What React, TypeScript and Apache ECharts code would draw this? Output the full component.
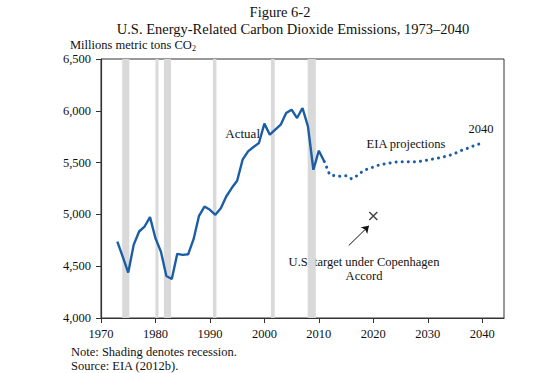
import React, { useEffect, useRef } from "react";
import * as echarts from "echarts";

const actualYears = [1973, 1974, 1975, 1976, 1977, 1978, 1979, 1980, 1981, 1982, 1983, 1984, 1985, 1986, 1987, 1988, 1989, 1990, 1991, 1992, 1993, 1994, 1995, 1996, 1997, 1998, 1999, 2000, 2001, 2002, 2003, 2004, 2005, 2006, 2007, 2008, 2009, 2010, 2011];
const actualValues = [4738, 4590, 4438, 4706, 4835, 4883, 4974, 4770, 4641, 4406, 4377, 4619, 4609, 4615, 4761, 4986, 5076, 5044, 4996, 5060, 5173, 5254, 5325, 5528, 5608, 5650, 5689, 5876, 5769, 5818, 5866, 5979, 6011, 5930, 6027, 5850, 5431, 5615, 5511];

const projYears = [2011, 2012, 2013, 2014, 2015, 2016, 2017, 2018, 2019, 2020, 2021, 2022, 2023, 2024, 2025, 2026, 2027, 2028, 2029, 2030, 2031, 2032, 2033, 2034, 2035, 2036, 2037, 2038, 2039, 2040];
const projValues = [5511, 5383, 5373, 5367, 5373, 5344, 5373, 5415, 5441, 5457, 5476, 5486, 5496, 5505, 5508, 5508, 5508, 5508, 5515, 5525, 5535, 5544, 5557, 5570, 5589, 5615, 5631, 5654, 5673, 5689];

const recessions: [number, number][] = [
  [1973.9, 1975.2],
  [1980.0, 1980.55],
  [1981.55, 1982.85],
  [1990.55, 1991.2],
  [2001.2, 2001.9],
  [2007.95, 2009.45],
];

const targetYear = 2020;
const targetValue = 4985;
const arrowStart: [number, number] = [2015.5, 4700];
const arrowEnd: [number, number] = [2019.2, 4890];

const SERIF = '"Liberation Serif", "Times New Roman", serif';
const BLUE = "#1b5ea6";

export default function App() {
  const ref = useRef<HTMLDivElement>(null);
  useEffect(() => {
    if (!ref.current) return;
    const chart = echarts.init(ref.current, null, { renderer: "svg" });
    const textStyle = { fontFamily: SERIF, fill: "#111" };
    chart.setOption({
      animation: false,
      backgroundColor: "#fff",
      textStyle: { fontFamily: SERIF },
      grid: {
        left: 101,
        right: 56,
        top: 59,
        bottom: 55,
        show: true,
        borderColor: "#333",
        borderWidth: 1,
        backgroundColor: "transparent",
      },
      xAxis: {
        type: "value",
        min: 1970,
        max: 2044,
        interval: 10,
        splitLine: { show: false },
        axisLine: { lineStyle: { color: "#333", width: 1.2 } },
        axisTick: { length: 5, lineStyle: { color: "#333" } },
        axisLabel: {
          margin: 9,
          fontSize: 12.5,
          color: "#111",
          fontFamily: SERIF,
          showMaxLabel: false,
          formatter: (v: number) => (v % 10 === 0 ? String(v) : ""),
        },
      },
      yAxis: {
        type: "value",
        min: 4000,
        max: 6500,
        interval: 500,
        splitLine: { show: false },
        axisLine: { show: true, lineStyle: { color: "#333", width: 1.2 } },
        axisTick: { show: true, length: 5, lineStyle: { color: "#333" } },
        axisLabel: {
          margin: 10,
          fontSize: 12.5,
          color: "#111",
          fontFamily: SERIF,
          formatter: (v: number) => v.toLocaleString("en-US"),
        },
      },
      series: [
        {
          type: "line",
          name: "Recessions",
          data: [],
          z: 1,
          silent: true,
          markArea: {
            silent: true,
            itemStyle: { color: "#d9d9d9" },
            data: recessions.map(([a, b]) => [{ xAxis: a }, { xAxis: b }]),
          },
        },
        {
          type: "line",
          name: "Actual",
          data: actualYears.map((y, i) => [y, actualValues[i]]),
          showSymbol: false,
          lineStyle: { color: BLUE, width: 2.4 },
          z: 5,
        },
        {
          type: "line",
          name: "Projection",
          data: projYears.map((y, i) => [y, projValues[i]]),
          showSymbol: false,
          lineStyle: { color: BLUE, width: 3, type: [0.1, 6], cap: "round" },
          z: 5,
        },
        {
          type: "scatter",
          name: "Target",
          data: [[targetYear, targetValue]],
          symbol: "path://M0,0L10,10M10,0L0,10",
          symbolSize: 8,
          itemStyle: { color: "none", borderColor: "#111", borderWidth: 1.4 },
          z: 6,
          markLine: {
            silent: true,
            symbol: ["none", "arrow"],
            symbolSize: 7,
            label: { show: false },
            lineStyle: { color: "#111", width: 1, type: "solid" },
            data: [[{ coord: arrowStart }, { coord: arrowEnd }]],
          },
        },
      ],
      graphic: [
        { type: "text", left: "center", top: 4, style: { ...textStyle, text: "Figure 6-2", fontSize: 14.5 } },
        { type: "text", x: 293, y: 21, style: { ...textStyle, text: "U.S. Energy-Related Carbon Dioxide Emissions, 1973\u20132040", fontSize: 14.5, textAlign: "center" } },
        {
          type: "text",
          x: 70,
          y: 38,
          style: {
            ...textStyle,
            text: "{a|Millions metric tons CO}{s|2}",
            rich: {
              a: { fontFamily: SERIF, fontSize: 12.5, fill: "#111" },
              s: { fontFamily: SERIF, fontSize: 8, fill: "#111", padding: [6, 0, 0, 0] },
            },
          },
        },
        { type: "text", x: 260, y: 133, style: { ...textStyle, text: "Actual", fontSize: 13, textAlign: "right", textVerticalAlign: "middle" } },
        { type: "text", x: 406, y: 144, style: { ...textStyle, text: "EIA projections", fontSize: 12.5, textAlign: "center", textVerticalAlign: "middle" } },
        { type: "text", x: 481, y: 129, style: { ...textStyle, text: "2040", fontSize: 12.5, textAlign: "center", textVerticalAlign: "middle" } },
        { type: "text", x: 364, y: 262, style: { ...textStyle, text: "U.S. target under Copenhagen", fontSize: 12.5, textAlign: "center", textVerticalAlign: "middle" } },
        { type: "text", x: 364, y: 276, style: { ...textStyle, text: "Accord", fontSize: 12.5, textAlign: "center", textVerticalAlign: "middle" } },
        { type: "text", x: 71, y: 352, style: { ...textStyle, text: "Note: Shading denotes recession.", fontSize: 12.5, textVerticalAlign: "middle" } },
        { type: "text", x: 71, y: 366, style: { ...textStyle, text: "Source: EIA (2012b).", fontSize: 12.5, textVerticalAlign: "middle" } },
      ],
    });
    return () => chart.dispose();
  }, []);
  return <div ref={ref} style={{ position: "fixed", left: 0, top: 0, width: 560, height: 373 }} />;
}
